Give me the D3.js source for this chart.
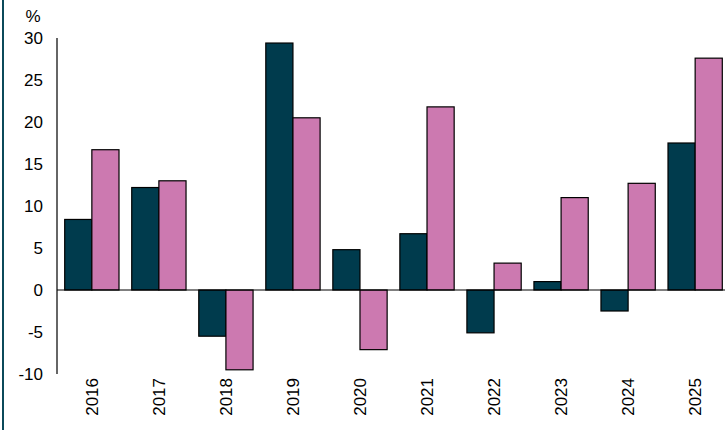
<!DOCTYPE html><html><head><script src="https://cdn.jsdelivr.net/npm/d3@7"></script>
<style>body{margin:0;background:#fff}svg{display:block}text{font-family:"Liberation Sans",Arial,sans-serif;fill:#000}</style></head><body><svg width="725" height="430"></svg><script>
const years=["2016","2017","2018","2019","2020","2021","2022","2023","2024","2025"];
const seriesA=[8.4,12.2,-5.5,29.4,4.8,6.7,-5.1,1.0,-2.5,17.5];
const seriesB=[16.7,13.0,-9.5,20.5,-7.1,21.8,3.2,11.0,12.7,27.6];
const yTicks=[-10,-5,0,5,10,15,20,25,30];
const svg=d3.select("svg");
svg.append("rect").attr("x",2).attr("y",0).attr("width",2).attr("height",430).attr("fill","#0b4a5a");
const y=d3.scaleLinear().domain([-10,30]).range([374,38]);
const x=d3.scaleBand().domain(years).range([58,729]).paddingInner(0.19).paddingOuter(0.1);
const xs=d3.scaleBand().domain([0,1]).range([0,x.bandwidth()]);
svg.append("line").attr("x1",57).attr("x2",57).attr("y1",y(30)).attr("y2",y(-10)).attr("stroke","#333").attr("stroke-width",1.5);
svg.selectAll(".yt").data(yTicks).join("text").attr("x",43).attr("y",d=>y(d)).attr("dy","0.35em").attr("text-anchor","end").attr("font-size",17).text(d=>d);
svg.append("text").attr("x",33).attr("y",22).attr("font-size",17).attr("text-anchor","middle").text("%");
[seriesA,seriesB].forEach((s,i)=>{
 svg.selectAll(".b"+i).data(years).join("rect").attr("x",(d)=>x(d)+xs(i)).attr("width",xs.bandwidth())
 .attr("y",(d,j)=>y(Math.max(0,s[j]))).attr("height",(d,j)=>Math.abs(y(s[j])-y(0)))
 .attr("fill",i?"#cc79b0":"#003b4d").attr("stroke","#000").attr("stroke-width",1.2);
});
svg.append("line").attr("x1",57).attr("x2",725).attr("y1",y(0)).attr("y2",y(0)).attr("stroke","#000").attr("stroke-width",1);
svg.selectAll(".xt").data(years).join("text").attr("transform",d=>`translate(${x(d)+x.bandwidth()/2+6},378) rotate(-90)`).attr("text-anchor","end").attr("font-size",17).text(d=>d);
</script></body></html>
